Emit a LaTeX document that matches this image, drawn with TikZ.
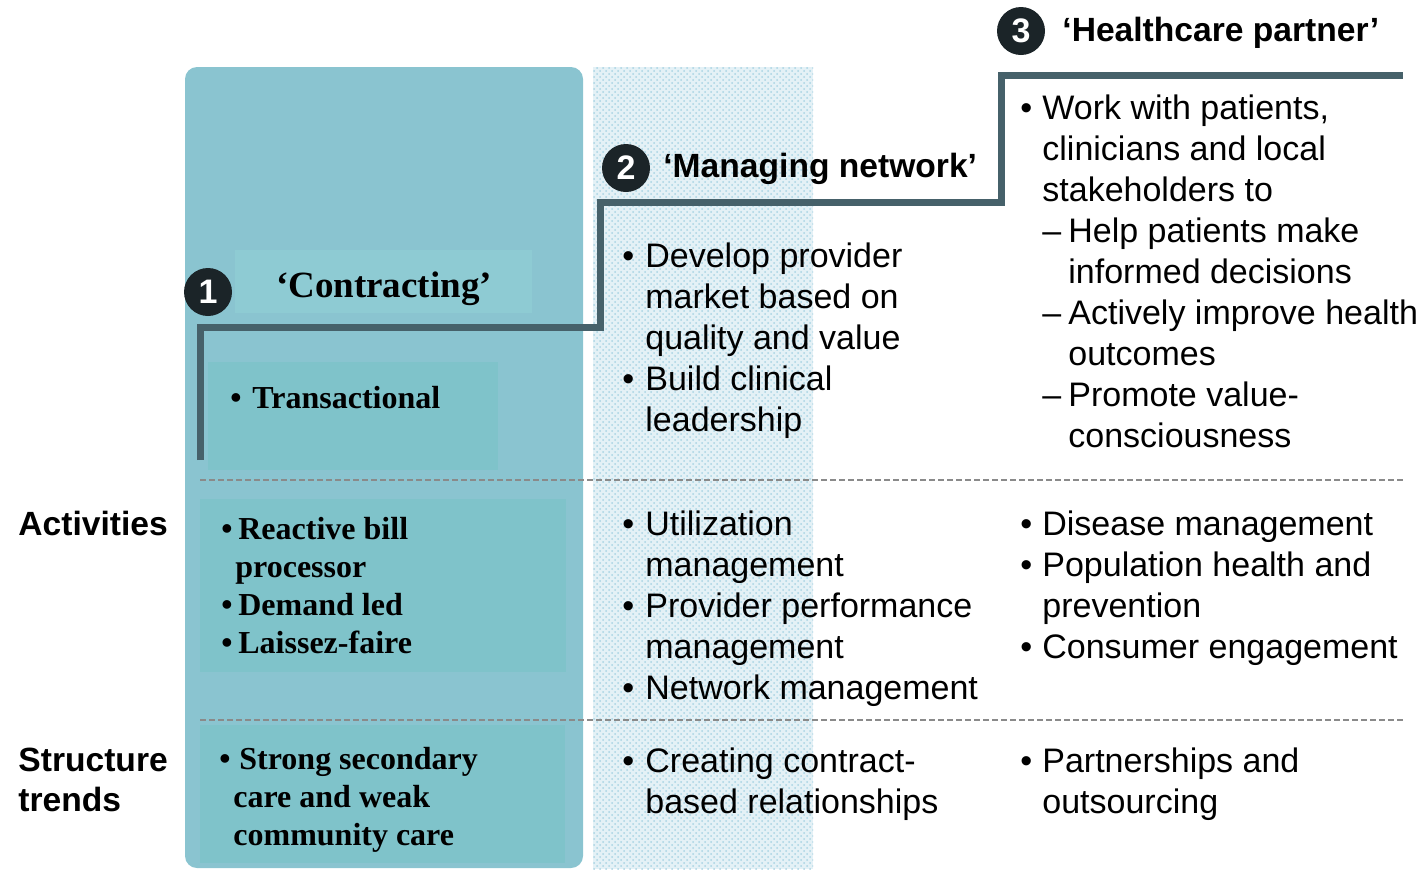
\documentclass[tikz,border=0pt]{standalone}
\usepackage{fontspec}
\setmainfont{Liberation Serif}
\setsansfont{Liberation Sans}
\usepackage{xcolor}
\usetikzlibrary{positioning, patterns}
\definecolor{colteal}{HTML}{8AC4D0}
\definecolor{boxlight}{HTML}{8ECBD3}
\definecolor{boxmid}{HTML}{7FC3CA}
\definecolor{dotfill}{HTML}{E4F1F6}
\definecolor{dotblue}{HTML}{A9D3E3}
\definecolor{stepgrey}{HTML}{46616A}
\definecolor{numdark}{HTML}{1B2428}
\definecolor{dashgrey}{HTML}{8A8A8A}
\newcommand{\bul}[1]{\makebox[#1][l]{\textbullet}}
\newcommand{\ind}[1]{\hspace*{#1}}

\begin{document}
\begin{tikzpicture}[x=0.5pt, y=-0.5pt,
      sanstxt/.style={font=\sffamily\fontsize{17}{20.5}\selectfont, align=left, inner sep=0pt, anchor=north west},
      sertxt/.style={font=\rmfamily\bfseries\fontsize{16}{19}\selectfont, align=left, inner sep=0pt, anchor=north west},
      heading/.style={font=\sffamily\bfseries\fontsize{16.8}{20}\selectfont, align=left, inner sep=0pt},
      numdot/.style={circle, fill=numdark, text=white, font=\sffamily\bfseries\fontsize{17}{17}\selectfont, minimum size=24pt, inner sep=0pt},
      stepline/.style={draw=stepgrey, line width=3.5pt},
      rowline/.style={draw=dashgrey, line width=1pt, dash pattern=on 3pt off 1.5pt}]
      \useasboundingbox (0,0) rectangle (1424,869);
      % columns
      \fill[colteal, rounded corners=6pt] (185,67) rectangle (583,868);
      \fill[dotfill] (593,67) rectangle (813,869);
      \fill[pattern=crosshatch dots, pattern color=dotblue] (593,67) rectangle (813,869);
      \fill[boxlight] (235,250) rectangle (532,313);
      \fill[boxmid] (208,362) rectangle (498,470);
      \fill[boxmid] (200,499) rectangle (566,672);
      \fill[boxmid] (200,725) rectangle (565,863);
      % rows
      \draw[rowline] (200,480) -- (1403,480);
      \draw[rowline] (200,720) -- (1403,720);
      % steps
      \draw[stepline] (200,460) -- (200,327) -- (600,327) -- (600,202) -- (1001,202) -- (1001,75) -- (1403,75);
      \node[numdot] (n1) at (208,292) {1};
      \node[numdot] (n2) at (626,168) {2};
      \node[numdot] (n3) at (1021,31) {3};

      \node[heading, anchor=base west] (mng) at (663,177) {‘Managing network’};
      \node[heading, anchor=base west] (hcp) at (1062,41) {‘Healthcare partner’};
      \node[font=\rmfamily\bfseries\fontsize{18.5}{20}\selectfont, inner sep=0pt, anchor=base] (ctr) at (384,297) {‘Contracting’};

      \node[heading, anchor=base west] (lblact) at (18,535) {Activities};
      \node[heading, anchor=north west] (lblstr) at (18,748) {Structure\\trends};

      \node[sertxt, anchor=base west] (trans) at (230,408) {\bul{11pt}Transactional};
      \node[sertxt] (act1) at (221,517) {\bul{8.5pt}Reactive bill\\ \ind{7pt}processor\\ \bul{8.5pt}Demand led\\ \bul{8.5pt}Laissez-faire};
      \node[sertxt] (str1) at (219,747) {\bul{10pt}Strong secondary\\ \ind{7pt}care and weak\\ \ind{7pt}community care};

      \node[sanstxt] (dev) at (622,242) {\bul{11.5pt}Develop provider\\ \ind{11.5pt}market based on\\ \ind{11.5pt}quality and value\\ \bul{11.5pt}Build clinical\\ \ind{11.5pt}leadership};
      \node[sanstxt] (util) at (622,510) {\bul{11.5pt}Utilization\\ \ind{11.5pt}management\\ \bul{11.5pt}Provider performance\\ \ind{11.5pt}management\\ \bul{11.5pt}Network management};
      \node[sanstxt] (creat) at (622,747) {\bul{11.5pt}Creating contract-\\ \ind{11.5pt}based relationships};

      \node[sanstxt] (work) at (1020,94) {\bul{11pt}Work with patients,\\ \ind{11pt}clinicians and local\\ \ind{11pt}stakeholders to\\ \ind{11pt}\makebox[13pt][l]{–}Help patients make\\ \ind{24pt}informed decisions\\ \ind{11pt}\makebox[13pt][l]{–}Actively improve health\\ \ind{24pt}outcomes\\ \ind{11pt}\makebox[13pt][l]{–}Promote value-\\ \ind{24pt}consciousness};
      \node[sanstxt] (dis) at (1020,510) {\bul{11pt}Disease management\\ \bul{11pt}Population health and\\ \ind{11pt}prevention\\ \bul{11pt}Consumer engagement};
      \node[sanstxt] (part) at (1020,747) {\bul{11pt}Partnerships and\\ \ind{11pt}outsourcing};
    \end{tikzpicture}
\end{document}
